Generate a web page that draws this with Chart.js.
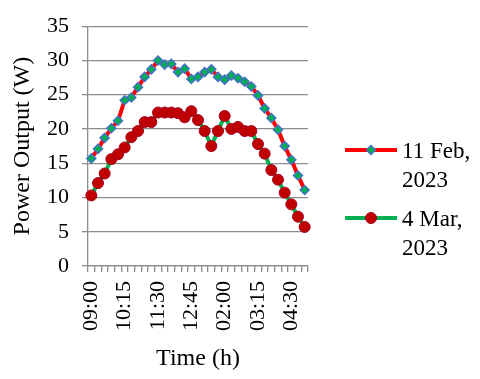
<!DOCTYPE html>
<html>
<head>
<meta charset="utf-8">
<script src="https://cdn.jsdelivr.net/npm/chart.js@4.4.0/dist/chart.umd.min.js"></script>
<style>
  body { margin: 0; background: #fff; }
  #wrap { width: 480px; height: 379px; }
</style>
</head>
<body>
<div id="wrap"><canvas id="powerChart" width="480" height="379"></canvas></div>
<script>
const timeLabels = [
    '09:00', '09:15', '09:30', '09:45', '10:00', '10:15', '10:30', '10:45',
    '11:00', '11:15', '11:30', '11:45', '12:00', '12:15', '12:30', '12:45',
    '01:00', '01:15', '01:30', '01:45', '02:00', '02:15', '02:30', '02:45',
    '03:00', '03:15', '03:30', '03:45', '04:00', '04:15', '04:30', '04:45', '05:00'
];
const feb11 = [
    15.7, 17.1, 18.7, 20.1, 21.2, 24.2, 24.6, 26.1, 27.6, 28.7, 30.0,
    29.4, 29.5, 28.3, 28.8, 27.3, 27.6, 28.3, 28.7, 27.6, 27.2, 27.8,
    27.4, 26.9, 26.2, 24.9, 23.0, 21.6, 19.9, 17.5, 15.5, 13.2, 11.1
];
const mar4 = [
    10.3, 12.1, 13.5, 15.6, 16.3, 17.3, 18.8, 19.7, 21.0, 21.0, 22.4,
    22.4, 22.4, 22.3, 21.7, 22.6, 21.3, 19.7, 17.5, 19.7, 21.9, 20.0,
    20.3, 19.7, 19.7, 17.8, 16.4, 14.0, 12.6, 10.7, 9.0, 7.2, 5.7
];
const seriesNames = [['11 Feb,', '2023'], ['4 Mar,', '2023']];
const yTicks = [0, 5, 10, 15, 20, 25, 30, 35];

const serif = "'Liberation Serif', 'Times New Roman', serif";
const gridGray = '#8c8c8c';

Chart.defaults.font.family = serif;
Chart.defaults.color = '#000';

// two-line legend on the right, Chart.js legend can't wrap
const sideLegend = {
    id: 'sideLegend',
    afterDraw(chart) {
        const ctx = chart.ctx;
        const rows = [150, 218];
        ctx.save();
        chart.data.datasets.forEach((ds, i) => {
            const y = rows[i];
            ctx.strokeStyle = ds.borderColor;
            ctx.lineWidth = ds.borderWidth;
            ctx.beginPath();
            ctx.moveTo(345, y);
            ctx.lineTo(397, y);
            ctx.stroke();
            ctx.fillStyle = ds.pointBackgroundColor;
            ctx.strokeStyle = ds.pointBorderColor;
            ctx.lineWidth = ds.pointBorderWidth;
            Chart.helpers.drawPoint(ctx, {
                pointStyle: ds.pointStyle,
                radius: ds.pointRadius,
                borderWidth: ds.pointBorderWidth
            }, 371, y);
            ctx.fillStyle = '#000';
            ctx.font = '23px ' + serif;
            ctx.textAlign = 'left';
            ctx.textBaseline = 'alphabetic';
            const lines = Array.isArray(ds.label) ? ds.label : [ds.label];
            lines.forEach((t, k) => ctx.fillText(t, 402, y + 8 + k * 29));
        });
        ctx.restore();
    }
};

new Chart(document.getElementById('powerChart'), {
    type: 'line',
    data: {
        labels: timeLabels,
        datasets: [{
            label: seriesNames[0],
            data: feb11,
            borderColor: '#ff0000',
            borderWidth: 4,
            pointStyle: 'rectRot',
            pointRadius: 4.5,
            pointBackgroundColor: '#00b050',
            pointBorderColor: '#4472c4',
            pointBorderWidth: 1.5,
            tension: 0
        }, {
            label: seriesNames[1],
            data: mar4,
            borderColor: '#00b050',
            borderWidth: 4,
            pointStyle: 'circle',
            pointRadius: 5.5,
            pointBackgroundColor: '#c00000',
            pointBorderColor: '#a50021',
            pointBorderWidth: 1,
            tension: 0
        }]
    },
    options: {
        responsive: false,
        animation: false,
        layout: { padding: { top: 20, right: 172, left: 0, bottom: 0 } },
        plugins: {
            legend: { display: false },
            tooltip: { enabled: false }
        },
        scales: {
            x: {
                offset: true,
                grid: { offset: true, drawOnChartArea: false, drawTicks: true, tickLength: 6, color: gridGray, lineWidth: 1.3 },
                border: { color: gridGray, width: 1.3 },
                ticks: {
                    autoSkip: false,
                    maxRotation: 90,
                    minRotation: 90,
                    padding: 9,
                    font: { size: 22 },
                    callback: (v, i) => (i % 5 === 0 ? timeLabels[i] : '')
                },
                title: { display: true, text: 'Time (h)', font: { size: 24 }, padding: { top: 0, bottom: 6 } },
                afterFit: s => { s.height = 113; }
            },
            y: {
                min: yTicks[0],
                max: yTicks[yTicks.length - 1],
                afterBuildTicks: s => { s.ticks = yTicks.map(v => ({ value: v })); },
                grid: { color: gridGray, lineWidth: 1.3, tickLength: 6 },
                border: { color: gridGray, width: 1.3 },
                ticks: { padding: 13, font: { size: 22 } },
                title: { display: true, text: 'Power Output (W)', font: { size: 24 }, padding: { top: 8, bottom: 0 } },
                afterFit: s => { s.width = 88; }
            }
        }
    },
    plugins: [sideLegend]
});
</script>
</body>
</html>
